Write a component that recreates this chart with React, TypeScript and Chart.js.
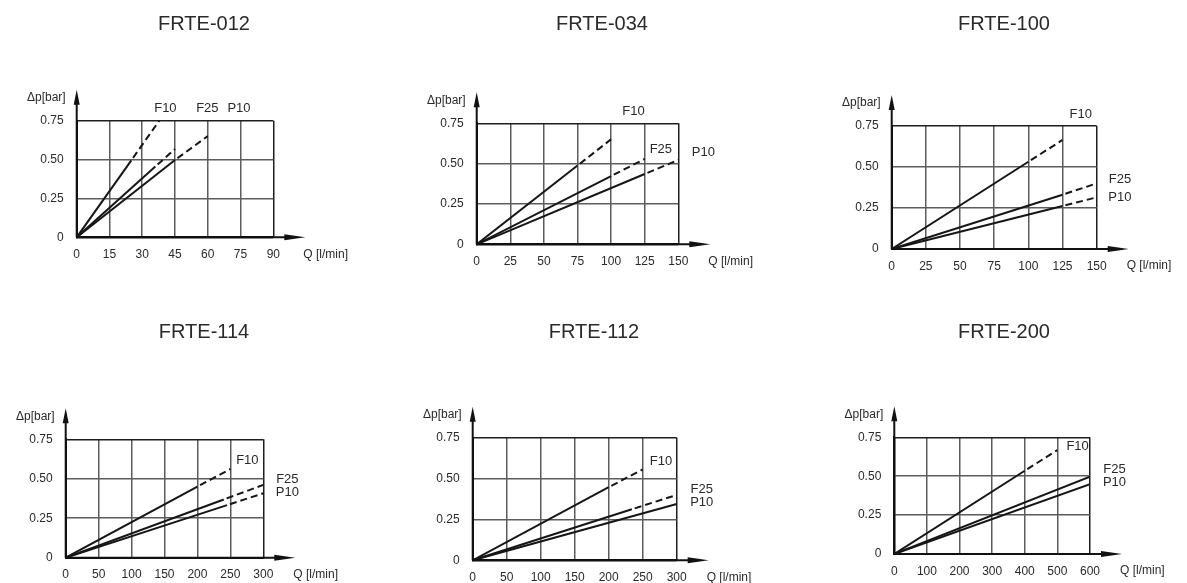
import React, { useEffect, useRef } from "react";
import { Chart, registerables } from "chart.js";

Chart.register(...registerables);

// ---- data ----
const titles = ["FRTE-012", "FRTE-034", "FRTE-100", "FRTE-114", "FRTE-112", "FRTE-200"];
const xMax = [90, 150, 150, 300, 300, 600];
const xStep = [15, 25, 25, 50, 50, 100];
const yMax = 0.75;
const yStep = 0.25;
const seriesNames = ["F10", "F25", "P10"];

// Each curve: origin, end of the solid part, end of the dashed part (Q [l/min], Δp [bar])
const f10Q = [[0, 25, 37.8], [0, 75, 100], [0, 100, 125], [0, 200, 250], [0, 200, 250], [0, 400, 500]];
const f10Dp = [[0, 0.495, 0.75], [0, 0.488, 0.651], [0, 0.532, 0.665], [0, 0.45, 0.562], [0, 0.447, 0.556], [0, 0.535, 0.668]];
const f25Q = [[0, 36, 45], [0, 100, 125], [0, 125, 150], [0, 240, 300], [0, 234, 300], [0, 600]];
const f25Dp = [[0, 0.455, 0.568], [0, 0.423, 0.529], [0, 0.331, 0.4], [0, 0.369, 0.461], [0, 0.312, 0.4], [0, 0.497]];
const p10Q = [[0, 45, 60], [0, 125, 150], [0, 125, 150], [0, 245, 300], [0, 300], [0, 600]];
const p10Dp = [[0, 0.497, 0.651], [0, 0.436, 0.523], [0, 0.262, 0.315], [0, 0.333, 0.408], [0, 0.344], [0, 0.448]];

// Curve name labels, anchored in data coordinates (Q, Δp)
const labelQ = [[40.6, 59.8, 74.3], [116.6, 137, 168.7], [138.3, 167, 167], [275.8, 336.5, 336.5], [277, 336.8, 336.8], [562, 675, 675]];
const labelDp = [[0.829, 0.829, 0.829], [0.822, 0.585, 0.568], [0.823, 0.425, 0.315], [0.619, 0.499, 0.412], [0.607, 0.436, 0.352], [0.69, 0.544, 0.458]];

// ---- layout (page pixels) ----
const panels = [
  { cx: 0, cy: 0, cw: 400, ch: 290, area: [76.7, 120.7, 273.3, 237.3], tx: 204, ty: 24 },
  { cx: 400, cy: 0, cw: 400, ch: 290, area: [476.7, 123.3, 678.3, 244.3], tx: 602, ty: 24 },
  { cx: 800, cy: 0, cw: 387, ch: 290, area: [891.7, 126, 1096.7, 249], tx: 1004, ty: 24 },
  { cx: 0, cy: 290, cw: 400, ch: 320, area: [65.7, 439.3, 263.3, 557.7], tx: 204, ty: 332 },
  { cx: 400, cy: 290, cw: 400, ch: 320, area: [472.7, 437.7, 676.7, 560.3], tx: 594, ty: 332 },
  { cx: 800, cy: 290, cw: 387, ch: 320, area: [894.3, 437.3, 1090, 554], tx: 1004, ty: 332 },
];

const FONT = '"Liberation Sans", Arial, Helvetica, sans-serif';
const Y_AXIS_W = 50;
const X_AXIS_H = 30;

function Panel({ i }: { i: number }) {
  const ref = useRef<HTMLCanvasElement | null>(null);
  const p = panels[i];

  useEffect(() => {
    if (!ref.current) return;
    const [aL, aT, aR, aB] = p.area;
    const qs = [f10Q[i], f25Q[i], p10Q[i]];
    const dps = [f10Dp[i], f25Dp[i], p10Dp[i]];

    const datasets = seriesNames.map((name, s) => ({
      label: name,
      data: qs[s].map((q, k) => ({ x: q, y: dps[s][k] })),
      borderColor: "#161616",
      borderWidth: 2,
      borderCapStyle: "butt" as const,
      pointRadius: 0,
      pointHoverRadius: 0,
      fill: false,
      tension: 0,
      segment: {
        borderDash: (ctx: any) => (ctx.p0DataIndex >= 1 ? [7, 4] : []),
        borderDashOffset: (ctx: any) => (ctx.p0DataIndex >= 1 ? 8 : 0),
      },
    }));

    const deco = {
      id: "deco",
      afterDraw(chart: any) {
        const { ctx, chartArea: a, scales } = chart;
        ctx.save();
        // title
        ctx.fillStyle = "#2a2a2a";
        ctx.font = `20px ${FONT}`;
        ctx.textAlign = "center";
        ctx.textBaseline = "middle";
        ctx.fillText(titles[i], p.tx - p.cx, p.ty - p.cy);

        // axis extensions with arrow heads
        ctx.strokeStyle = "#111";
        ctx.fillStyle = "#111";
        ctx.lineWidth = 2;
        ctx.beginPath();
        ctx.moveTo(a.left, a.bottom);
        ctx.lineTo(a.left, a.top - 20);
        ctx.stroke();
        ctx.beginPath();
        ctx.moveTo(a.left, a.top - 31);
        ctx.lineTo(a.left - 3, a.top - 16);
        ctx.lineTo(a.left + 3, a.top - 16);
        ctx.closePath();
        ctx.fill();

        ctx.beginPath();
        ctx.moveTo(a.left, a.bottom);
        ctx.lineTo(a.right + 14, a.bottom);
        ctx.stroke();
        ctx.beginPath();
        ctx.moveTo(a.right + 32, a.bottom);
        ctx.lineTo(a.right + 11, a.bottom - 3);
        ctx.lineTo(a.right + 11, a.bottom + 3);
        ctx.closePath();
        ctx.fill();

        // axis titles
        ctx.fillStyle = "#2a2a2a";
        ctx.font = `12px ${FONT}`;
        ctx.textAlign = "right";
        ctx.fillText("Δp[bar]", a.left - 11, a.top - 23);
        ctx.textAlign = "left";
        ctx.fillText("Q [l/min]", a.right + 30, a.bottom + 17);

        // curve labels
        ctx.font = `13px ${FONT}`;
        ctx.textAlign = "center";
        seriesNames.forEach((name, s) => {
          const x = scales.x.getPixelForValue(labelQ[i][s]);
          const y = scales.y.getPixelForValue(labelDp[i][s]);
          ctx.fillText(name, x, y);
        });
        ctx.restore();
      },
    };

    const gridColor = (max: number) => (ctx: any) =>
      ctx.tick && Math.abs(ctx.tick.value - max) < 1e-9 ? "#1e1e1e" : "#5c5c5c";

    const chart = new Chart(ref.current, {
      type: "line",
      data: { datasets },
      options: {
        animation: false,
        responsive: false,
        devicePixelRatio: 1,
        events: [],
        layout: {
          padding: {
            left: aL - p.cx - Y_AXIS_W,
            top: aT - p.cy,
            right: p.cx + p.cw - aR,
            bottom: p.cy + p.ch - aB - X_AXIS_H,
          },
        },
        plugins: {
          legend: { display: false },
          title: { display: false },
          tooltip: { enabled: false },
        },
        scales: {
          x: {
            type: "linear",
            min: 0,
            max: xMax[i],
            afterFit: (scale: any) => {
              scale.height = X_AXIS_H;
            },
            ticks: {
              stepSize: xStep[i],
              autoSkip: false,
              maxRotation: 0,
              padding: 10,
              color: "#2a2a2a",
              font: { family: FONT, size: 12 },
            },
            grid: { color: gridColor(xMax[i]), lineWidth: 1.5, drawTicks: false },
            border: { display: true, color: "#111", width: 2 },
          },
          y: {
            type: "linear",
            min: 0,
            max: yMax,
            afterFit: (scale: any) => {
              scale.width = Y_AXIS_W;
            },
            ticks: {
              stepSize: yStep,
              padding: 13,
              color: "#2a2a2a",
              font: { family: FONT, size: 12 },
              callback: (v: any) => (Number(v) === 0 ? "0" : Number(v).toFixed(2)),
            },
            grid: { color: gridColor(yMax), lineWidth: 1.5, drawTicks: false },
            border: { display: true, color: "#111", width: 2 },
          },
        },
      },
      plugins: [deco],
    });
    return () => chart.destroy();
  }, [i]);

  return (
    <canvas
      ref={ref}
      width={p.cw}
      height={p.ch}
      style={{ position: "absolute", left: p.cx, top: p.cy, width: p.cw, height: p.ch }}
    />
  );
}

export default function App() {
  return (
    <div
      style={{
        position: "absolute",
        left: 0,
        top: 0,
        width: 1187,
        height: 583,
        background: "#fff",
        overflow: "hidden",
      }}
    >
      {panels.map((_, i) => (
        <Panel key={i} i={i} />
      ))}
    </div>
  );
}
